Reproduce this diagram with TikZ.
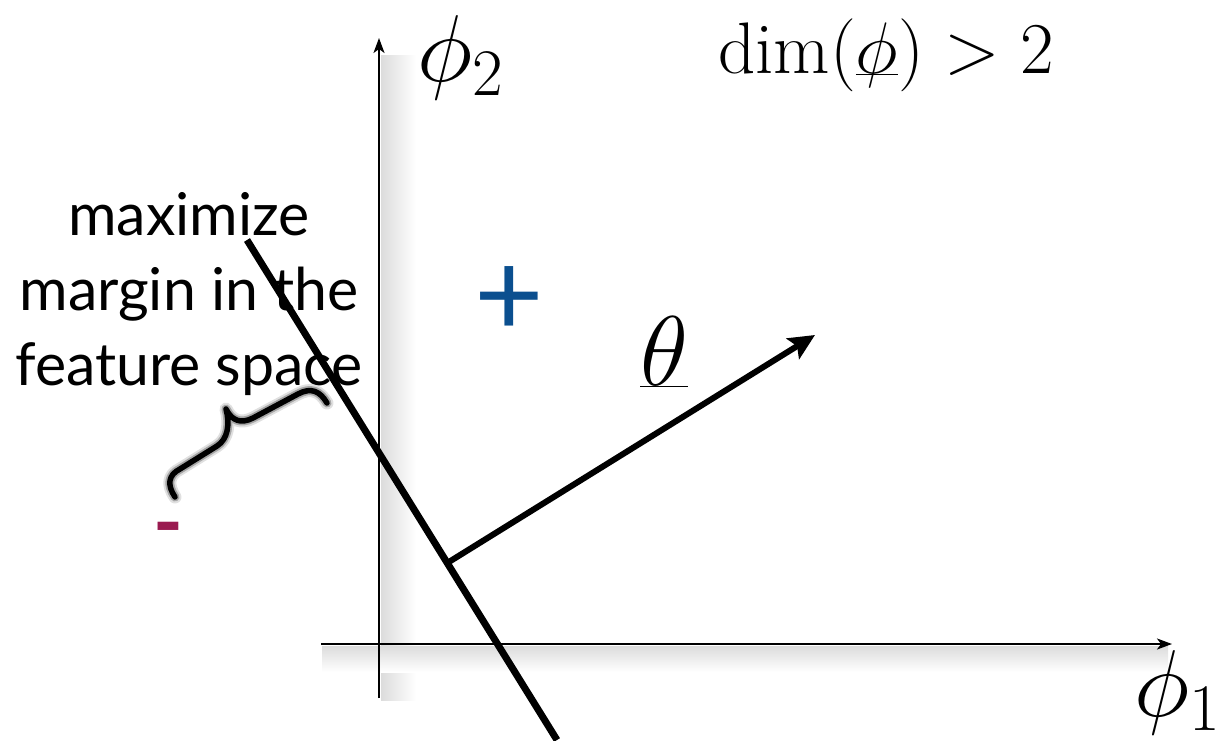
\documentclass[tikz,border=0pt]{standalone}
\usepackage{fix-cm}
\usepackage{fontspec}
\newfontfamily\gillfont{Lato}
\usetikzlibrary{positioning, arrows.meta, calc}
\definecolor{mgblue}{HTML}{0B4F8F}
\definecolor{mgpurple}{HTML}{9A1A50}
\definecolor{mgshadow}{HTML}{DCDCDC}

\begin{document}
\begin{tikzpicture}[x=1pt, y=-1pt,
  ax/.style={line width=2pt, -{Stealth[length=15pt, width=11pt, inset=4pt]}},
  sep/.style={line width=7pt},
  vec/.style={line width=6pt, -{Stealth[length=26pt, width=24pt, inset=5pt]}},
  mathlbl/.style={inner sep=0pt, anchor=base west},
  note/.style={font=\fontsize{59}{75}\selectfont\gillfont, align=center, inner sep=0pt},
  sign/.style={inner sep=0pt, anchor=base},
]
\useasboundingbox (0,0) rectangle (1228,740);

% axes with their soft shadows
\coordinate (ybot) at (379,698);
\coordinate (ytop) at (379,38);
\coordinate (xleft) at (321,644);
\coordinate (xright) at (1172,644);
\shade[left color=mgshadow, right color=white] (381,55) rectangle (416,700);
\shade[top color=mgshadow, bottom color=white] (322,646) rectangle (1168,672);
\draw[ax] (ybot) -- (ytop);
\draw[ax] (xleft) -- (xright);

% labels
\node[mathlbl, font=\fontsize{95}{95}\selectfont] (phitwo) at (417,81) {$\phi_2$};
\node[mathlbl, font=\fontsize{95}{95}\selectfont] (phione) at (1134,716) {$\phi_1$};
\node[mathlbl, font=\fontsize{73}{73}\selectfont] (dimlbl) at (718,73) {$\dim(\underline{\smash{\phi}}) > 2$};
\node[mathlbl, font=\fontsize{99}{99}\selectfont] (thlbl) at (640,385) {$\underline{\theta}$};
\node[note, anchor=base] (marginnote) at (189,385) {maximize\\margin in the\\feature space};
\node[sign, font=\fontsize{120}{120}\selectfont\gillfont, text=mgblue] (pos) at (509,336) {+};
\node[sign, font=\fontsize{80}{80}\selectfont\gillfont\bfseries, text=mgpurple] (neg) at (168,550) {-};

% separating line and normal vector
\coordinate (septop) at (247,240);
\coordinate (sepbot) at (557,740);
\coordinate (thtip) at (815,335);
\coordinate (foot) at ($(septop)!(thtip)!(sepbot)$);
\draw[sep] (septop) -- (sepbot);
\draw[vec] (foot) -- (thtip);

% margin brace, drawn by hand with a blurred edge
\coordinate (brlow) at (175,497);
\coordinate (brhigh) at (327,403);
\foreach \w/\c in {13/black!12, 9/black!35, 5.5/black}
  \draw[line width=\w pt, \c, line cap=round, line join=round]
    (brlow) .. controls (167,485) and (168,475) .. (180,469)
    -- (217,446) .. controls (228,439) and (230,424) .. (226,409)
    .. controls (232,421) and (241,424) .. (253,418)
    -- (298,394) .. controls (311,387) and (320,391) .. (brhigh);
\end{tikzpicture}
\end{document}
